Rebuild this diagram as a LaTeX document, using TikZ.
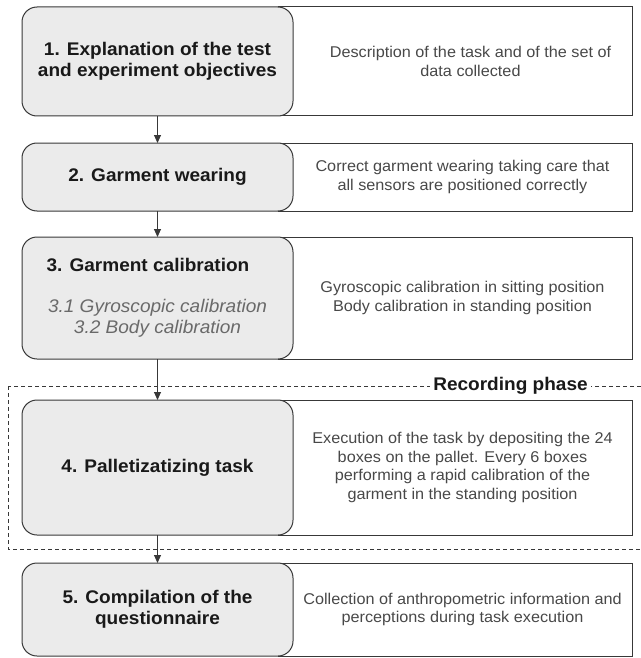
\documentclass[tikz,border=0pt]{standalone}
\usepackage{fontspec}
\setmainfont[FakeStretch=1.04]{Liberation Sans}
\usetikzlibrary{positioning, backgrounds, arrows.meta}

\definecolor{stagefill}{HTML}{EBEBEB}
\definecolor{edge}{HTML}{383838}
\definecolor{infotext}{HTML}{484848}
\definecolor{subtext}{HTML}{696969}
\newcommand{\subline}[1]{{\normalfont\itshape\color{subtext}#1}}

\begin{document}
\begin{tikzpicture}[
    stage/.style={draw=edge, fill=stagefill, rounded corners=15pt, line width=1pt, minimum width=271pt, outer sep=0pt, inner sep=2pt, align=center, text=black!90, font=\fontsize{18.3}{21}\selectfont\bfseries},
    info/.style={minimum width=339pt, outer sep=0pt, align=center, text=infotext, font=\fontsize{15.6}{18.5}\selectfont},
    phase/.style={fill=white, inner xsep=3pt, inner ysep=1pt, text=black!90, font=\fontsize{18.3}{20}\selectfont\bfseries},
    flow/.style={-{Triangle[length=8pt, width=7pt]}, line width=1pt, draw=edge},
    ]
    \useasboundingbox (0,0) rectangle (640pt,-658pt);

    \node[stage, minimum height=109pt, anchor=north west] (s1) at (22pt,-7pt) {1. Explanation of the test\\and experiment objectives};
    \node[stage, minimum height=68pt, below=27pt of s1] (s2) {2. Garment wearing};
    \node[stage, minimum height=122pt, below=26pt of s2] (s3) {3. Garment calibration\hspace*{19pt}\\[20pt]\subline{3.1 Gyroscopic calibration}\\\subline{3.2 Body calibration}};
    \node[stage, minimum height=135pt, below=41pt of s3] (s4) {4. Palletizatizing task};
    \node[stage, minimum height=93pt, below=28pt of s4] (s5) {5. Compilation of the\\questionnaire};

    \node[info, minimum height=109pt, right=8pt of s1] (d1) {Description of the task and of the set of\\data collected};
    \node[info, minimum height=68pt, right=0pt of s2] (d2) {Correct garment wearing taking care that\\all sensors are positioned correctly};
    \node[info, minimum height=122pt, right=0pt of s3] (d3) {Gyroscopic calibration in sitting position\\Body calibration in standing position};
    \node[info, minimum height=135pt, right=0pt of s4] (d4) {Execution of the task by depositing the 24\\boxes on the pallet. Every 6 boxes\\performing a rapid calibration of the\\garment in the standing position};
    \node[info, minimum height=93pt, right=0pt of s5] (d5) {Collection of anthropometric information and\\perceptions during task execution};

    \begin{scope}[on background layer]
        \foreach \i in {1,...,5}
            \draw[draw=edge, line width=1pt] ([xshift=-15pt]s\i.north east) rectangle (d2.east |- s\i.south);
        % recording frame, open to the right
        \draw[draw=edge, line width=0.8pt, dash pattern=on 4pt off 3pt] ([shift={(-14pt,14pt)}]s4.north west) rectangle ([shift={(30pt,-14pt)}]d4.south east);
    \end{scope}

    \node[phase] (rec) at ([shift={(48pt,14pt)}]d4.north) {Recording phase};

    \foreach \a/\b in {s1/s2, s2/s3, s3/s4, s4/s5}
        \draw[flow] (\a) -- (\b);
\end{tikzpicture}
\end{document}
